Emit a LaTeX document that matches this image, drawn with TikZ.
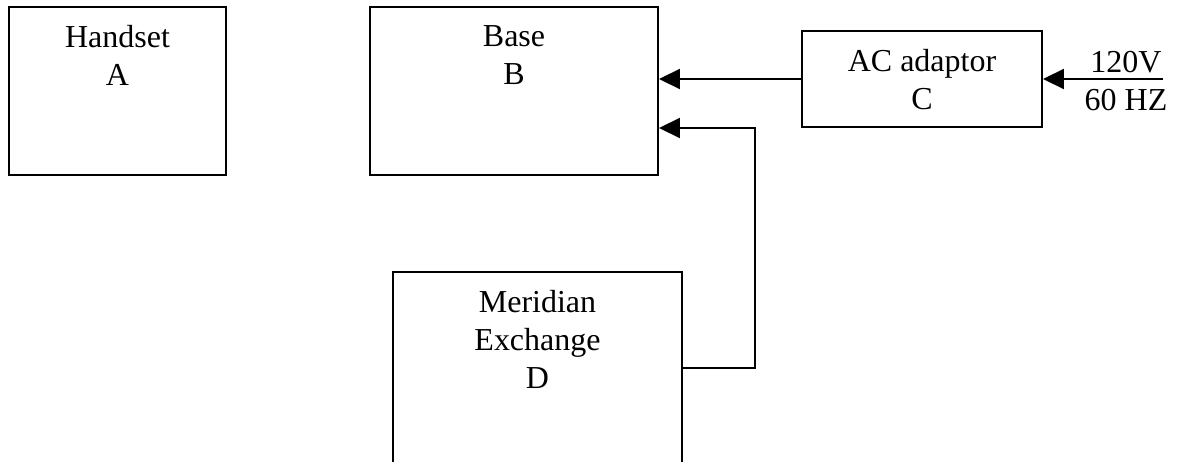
\documentclass[tikz,border=0pt]{standalone}
\usepackage{fontspec}
\setmainfont{Liberation Serif}
\usepackage{tikz}
\usetikzlibrary{arrows.meta,calc,positioning}
\tikzset{%
	block/.style     = {draw, rectangle, line width=1.1pt, inner sep=0pt},
	blocktext/.style = {align=center, inner sep=0pt, font=\fontsize{18.2}{21.6}\selectfont},
	arrow/.style     = {line width=1.1pt, -{Triangle[length=4.2mm,width=4mm]}},
}

\begin{document}
\begin{tikzpicture}
	\clip (0,0) rectangle (23.72,-9.24);
	
	\node[block, minimum width=4.34cm, minimum height=3.36cm] (hand) at (2.35,-1.82) {};
	\node[blocktext, below=0.38cm of hand.north] (handtxt) {Handset\\A};
	
	\node[block, minimum width=5.76cm, minimum height=3.36cm] (base) at (10.28,-1.82) {};
	\node[blocktext, below=0.38cm of base.north] (basetxt) {Base\\B};
	
	\node[block, minimum width=4.8cm, minimum height=1.92cm] (ac) at (18.44,-1.58) {};
	\node[blocktext, below=0.38cm of ac.north] (actxt) {AC adaptor\\C};
	
	\node[block, minimum width=5.78cm, minimum height=3.84cm] (mer) at (10.75,-7.36) {};  % runs off the bottom
	\node[blocktext, below=0.38cm of mer.north] (mertxt) {Meridian\\Exchange\\D};
	
	% mains into the adaptor
	\coordinate (mains) at (23.26,-1.58);
	\node[blocktext, anchor=north] (supply) at (22.52,-1.01) {120V\\60 HZ};
	\draw[arrow] (mains) -- (ac.east);
	
	\draw[arrow] (ac.west) -- (ac.west -| base.east);
	\draw[arrow] (mer.east) -- ++(1.44,0) |- ([yshift=-0.74cm]base.east);
\end{tikzpicture}
\end{document}
